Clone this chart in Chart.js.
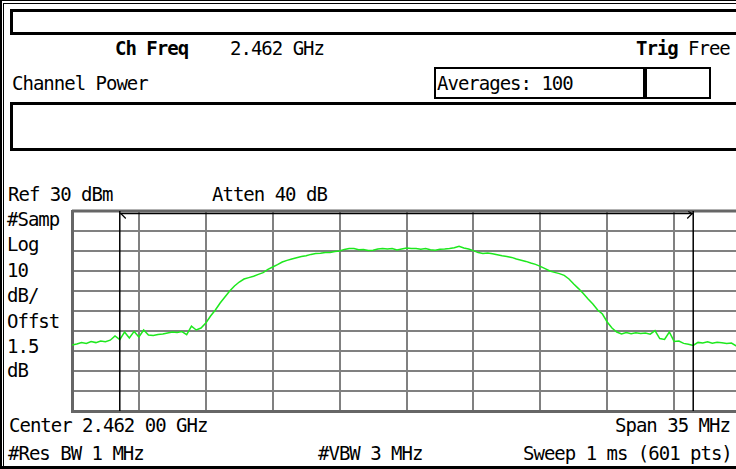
<!DOCTYPE html>
<html>
<head>
<meta charset="utf-8">
<script src="https://cdn.jsdelivr.net/npm/chart.js@4/dist/chart.umd.min.js"></script>
<style>
  html, body { margin: 0; padding: 0; overflow: hidden; background: #fff; }
  #screen { position: relative; width: 736px; height: 469px; overflow: hidden; background: #fff; }
  #trace { position: absolute; left: 0; top: 0; }
  .t { position: absolute; font-family: "DejaVu Sans Mono", monospace; font-size: 19px; line-height: 19px;
       letter-spacing: -1px; white-space: pre; color: #000; }
  .b { font-weight: bold; }
  .line { position: absolute; background: #000; }
  .box { position: absolute; box-sizing: border-box; border: 3px solid #000; }
</style>
</head>
<body>
<div id="screen">
  <!-- outer frame -->
  <div class="line" style="left:0;top:0;width:2px;height:469px"></div>
  <div class="line" style="left:3px;top:3px;width:1px;height:466px"></div>
  <div class="line" style="left:0;top:0;width:736px;height:1px"></div>
  <div class="line" style="left:3px;top:3px;width:733px;height:1px"></div>
  <div class="line" style="left:0;top:466px;width:736px;height:3px"></div>

  <!-- header boxes -->
  <div class="box" style="left:10px;top:9px;width:740px;height:26px"></div>
  <div class="box" style="left:434px;top:67px;width:211px;height:32px;border-width:2px"></div>
  <div class="box" style="left:643px;top:67px;width:68px;height:32px;border-width:2px;border-left-width:4px"></div>
  <div class="box" style="left:10px;top:102px;width:740px;height:49px"></div>

  <div class="t b" style="left:115px;top:39px">Ch Freq</div>
  <div class="t" style="left:230px;top:39px">2.462 GHz</div>
  <div class="t b" style="left:636px;top:39px">Trig</div>
  <div class="t" style="left:688px;top:39px">Free</div>
  <div class="t" style="left:12px;top:74px">Channel Power</div>
  <div class="t" style="left:437px;top:74px">Averages: 100</div>

  <div class="t" style="left:8px;top:185px">Ref 30 dBm</div>
  <div class="t" style="left:212px;top:185px">Atten 40 dB</div>
  <div class="t" style="left:7px;top:210px">#Samp</div>
  <div class="t" style="left:7px;top:235px">Log</div>
  <div class="t" style="left:7px;top:261px">10</div>
  <div class="t" style="left:7px;top:286px">dB/</div>
  <div class="t" style="left:7px;top:312px">Offst</div>
  <div class="t" style="left:7px;top:337px">1.5</div>
  <div class="t" style="left:7px;top:361px">dB</div>

  <div class="t" style="left:9px;top:416px">Center 2.462 00 GHz</div>
  <div class="t" style="left:615px;top:416px">Span 35 MHz</div>
  <div class="t" style="left:8px;top:444px">#Res BW 1 MHz</div>
  <div class="t" style="left:318px;top:444px">#VBW 3 MHz</div>
  <div class="t" style="left:523px;top:444px">Sweep 1 ms (601 pts)</div>

  <canvas id="trace" width="760" height="469"></canvas>
</div>
<script>
// Frequency offset from the 2.462 GHz centre, MHz
const freqMHz = [
  -17.5, -17.25, -17, -16.75, -16.5, -16.25, -16, -15.75, -15.5, -15.25,
  -15, -14.75, -14.5, -14.25, -14, -13.75, -13.5, -13.25, -13, -12.75,
  -12.5, -12.25, -12, -11.75, -11.5, -11.25, -11, -10.75, -10.5, -10.25,
  -10, -9.75, -9.5, -9.25, -9, -8.75, -8.5, -8.25, -8, -7.75,
  -7.5, -7.25, -7, -6.75, -6.5, -6.25, -6, -5.75, -5.5, -5.25,
  -5, -4.75, -4.5, -4.25, -4, -3.75, -3.5, -3.25, -3, -2.75,
  -2.5, -2.25, -2, -1.75, -1.5, -1.25, -1, -0.75, -0.5, -0.25,
  0, 0.25, 0.5, 0.75, 1, 1.25, 1.5, 1.75, 2, 2.25,
  2.5, 2.75, 3, 3.25, 3.5, 3.75, 4, 4.25, 4.5, 4.75,
  5, 5.25, 5.5, 5.75, 6, 6.25, 6.5, 6.75, 7, 7.25,
  7.5, 7.75, 8, 8.25, 8.5, 8.75, 9, 9.25, 9.5, 9.75,
  10, 10.25, 10.5, 10.75, 11, 11.25, 11.5, 11.75, 12, 12.25,
  12.5, 12.75, 13, 13.25, 13.5, 13.75, 14, 14.25, 14.5, 14.75,
  15, 15.25, 15.5, 15.75, 16, 16.25, 16.5, 16.75, 17, 17.25,
  17.5
];

// Averaged trace level, dBm
const levelDbm = [
  -37.0, -36.5, -35.8, -36.2, -35.3, -35.8, -35.0, -35.4, -34.6, -32.5,
  -34.3, -30.5, -33.5, -30.2, -33.0, -29.5, -32.0, -32.3, -31.8, -31.5,
  -31.0, -30.5, -30.8, -30.3, -31.8, -27.6, -29.5, -28.5, -26.0, -22.5,
  -19.5, -16.0, -13.0, -10.0, -7.5, -5.5, -4.0, -3.3, -2.6, -1.7,
  -0.8, 0.8, 2.0, 3.2, 4.5, 5.3, 6.0, 6.6, 7.2, 7.6,
  8.3, 8.7, 8.9, 9.3, 9.2, 9.8, 10.0, 10.8, 11.3, 11.2,
  10.6, 10.8, 10.2, 10.4, 11.0, 11.3, 11.0, 11.2, 10.5, 11.0,
  11.5, 11.2, 11.3, 10.9, 11.2, 10.6, 10.4, 10.9, 11.0, 11.2,
  11.6, 12.4, 11.5, 11.0, 10.2, 9.2, 8.8, 9.0, 8.6, 8.1,
  7.6, 7.3, 6.8, 6.0, 5.4, 4.8, 4.0, 3.3, 2.3, 1.2,
  0.0, -0.7, -1.3, -2.2, -4.0, -6.5, -8.8, -11.3, -14.0, -16.5,
  -19.5, -21.5, -25.5, -28.5, -30.5, -31.5, -30.8, -31.4, -30.9, -31.3,
  -31.0, -31.6, -29.8, -33.8, -34.2, -30.5, -35.2, -35.0, -36.2, -36.6,
  -37.2, -35.7, -36.0, -35.4, -36.1, -35.6, -35.9, -36.3, -36.0, -37.5,
  -37.0
];

// Graticule: 10 divisions each way (3.5 MHz/div, 10 dB/div from Ref 30 dBm)
const freqTicks = [-17.5, -14, -10.5, -7, -3.5, 0, 3.5, 7, 10.5, 14, 17.5];
const levelTicks = [30, 20, 10, 0, -10, -20, -30, -40, -50, -60, -70];

// Channel integration bandwidth edges, MHz
const channelEdges = [-15, 15];

const channelMarkers = {
  id: 'channelMarkers',
  afterDatasetsDraw(chart) {
    const { ctx, chartArea: a, scales: { x } } = chart;
    const xl = x.getPixelForValue(channelEdges[0]);
    const xr = x.getPixelForValue(channelEdges[1]);
    ctx.save();
    // plot frame top edge
    ctx.strokeStyle = '#666';
    ctx.lineWidth = 3;
    ctx.beginPath();
    ctx.moveTo(a.left, a.top);
    ctx.lineTo(a.right, a.top);
    ctx.stroke();
    // edge markers
    ctx.strokeStyle = '#000';
    ctx.lineWidth = 1.5;
    ctx.beginPath();
    ctx.moveTo(xl, a.top);
    ctx.lineTo(xl, a.bottom);
    ctx.moveTo(xr, a.top);
    ctx.lineTo(xr, a.bottom);
    // span bar with arrow heads
    const yb = a.top + 2.5;
    ctx.moveTo(xl, yb);
    ctx.lineTo(xr, yb);
    ctx.stroke();
    ctx.lineWidth = 1.2;
    ctx.beginPath();
    ctx.moveTo(xl + 6, yb + 5);
    ctx.lineTo(xl + 1, yb);
    ctx.moveTo(xr - 6, yb + 5);
    ctx.lineTo(xr - 1, yb);
    ctx.moveTo(xr - 5, yb - 2);
    ctx.lineTo(xr - 1, yb);
    ctx.stroke();
    ctx.restore();
  }
};

new Chart(document.getElementById('trace'), {
  type: 'line',
  data: {
    datasets: [{
      data: freqMHz.map((f, i) => ({ x: f, y: levelDbm[i] })),
      borderColor: '#1ee81e',
      borderWidth: 1.5,
      pointRadius: 0,
      tension: 0,
      fill: false
    }]
  },
  options: {
    responsive: false,
    animation: false,
    devicePixelRatio: 1,
    layout: { padding: { left: 72, top: 211, right: 19, bottom: 58 } },
    plugins: { legend: { display: false }, tooltip: { enabled: false } },
    scales: {
      x: {
        type: 'linear',
        min: freqTicks[0],
        max: freqTicks[freqTicks.length - 1],
        afterBuildTicks: s => { s.ticks = freqTicks.map(v => ({ value: v })); },
        ticks: { display: false },
        grid: { color: '#808080', lineWidth: 2, drawTicks: false },
        border: { display: true, color: '#666', width: 3 }
      },
      y: {
        type: 'linear',
        min: levelTicks[levelTicks.length - 1],
        max: levelTicks[0],
        afterBuildTicks: s => { s.ticks = levelTicks.map(v => ({ value: v })); },
        ticks: { display: false },
        grid: { color: '#808080', lineWidth: 2, drawTicks: false },
        border: { display: true, color: '#666', width: 3 }
      }
    }
  },
  plugins: [channelMarkers]
});
</script>
</body>
</html>
